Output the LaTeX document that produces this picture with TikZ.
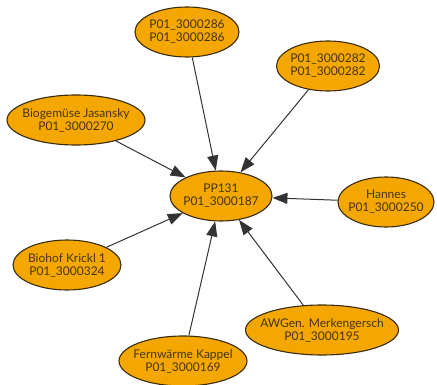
\documentclass[tikz,border=0pt]{standalone}
\usepackage{fontspec}
\setmainfont{Lato}
\usetikzlibrary{shapes.geometric,arrows.meta}
\definecolor{nodefill}{HTML}{F4A700}
\definecolor{nodeline}{HTML}{3A2C08}
\definecolor{nodetext}{HTML}{45340C}
\definecolor{edgecol}{HTML}{333333}
\newcommand{\twoline}[2]{\makebox[0pt]{#1}\\\makebox[0pt]{#2}}
\tikzset{
  nd/.style={ellipse, draw=nodeline, line width=1.1pt, fill=nodefill, text=nodetext,
    align=center, inner sep=0pt, minimum height=50pt,
    font=\fontsize{12}{13}\selectfont},
  edge/.style={draw=edgecol, line width=1pt, -{Triangle[length=15pt,width=11pt]}}
}
\begin{document}
\begin{tikzpicture}[x=1pt,y=1pt]
\useasboundingbox (0,0) rectangle (437,-385);
\node[nd, minimum width=102pt] (c) at (221,-196) {\twoline{PP131}{P01\_3000187}};
\node[nd, minimum width=104pt] (t) at (187,-32) {\twoline{P01\_3000286}{P01\_3000286}};
\node[nd, minimum width=103pt] (tr) at (328,-66) {\twoline{P01\_3000282}{P01\_3000282}};
\node[nd, minimum width=138pt] (bg) at (76,-120) {\twoline{Biogemüse Jasansky}{P01\_3000270}};
\node[nd, minimum width=96pt] (h) at (386,-202) {\twoline{Hannes}{P01\_3000250}};
\node[nd, minimum width=108pt] (bh) at (67,-265) {\twoline{Biohof Krickl 1}{P01\_3000324}};
\node[nd, minimum width=153pt] (aw) at (322,-330) {\twoline{AWGen. Merkengersch}{P01\_3000195}};
\node[nd, minimum width=128pt] (fw) at (183,-361) {\twoline{Fernwärme Kappel}{P01\_3000169}};
\draw[edge] (t) -- (c);
\draw[edge] (tr) -- (c);
\draw[edge] (bg) -- (c);
\draw[edge] (h) -- (c);
\draw[edge] (bh) -- (c);
\draw[edge] (aw) -- (c);
\draw[edge] (fw) -- (c);
\end{tikzpicture}
\end{document}
